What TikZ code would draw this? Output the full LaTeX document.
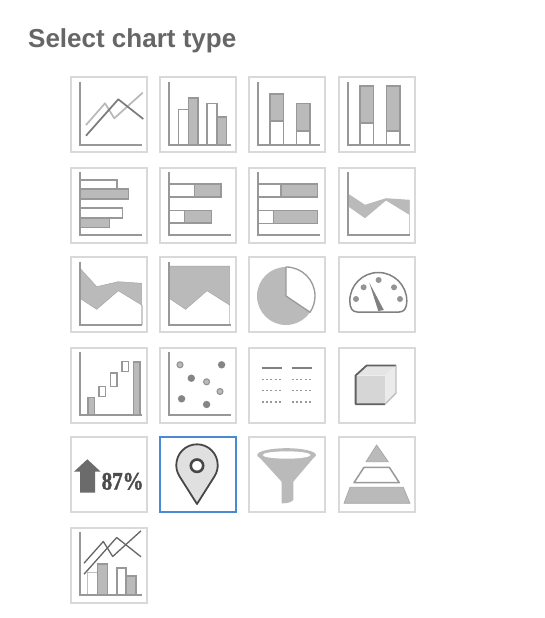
\documentclass[tikz,border=0pt]{standalone}
\usepackage{fontspec}
\setmainfont{Liberation Sans}
\newfontfamily\serifb[BoldFeatures={FakeBold=1.6}]{Liberation Serif}
\definecolor{tileedge}{HTML}{D9D9D9}
\definecolor{selblue}{HTML}{4A8AD4}
\definecolor{axisc}{HTML}{989898}
\definecolor{barc}{HTML}{BABABA}
\definecolor{titlec}{HTML}{666666}
\tikzset{
 x=1pt,y=-1pt,
 tile/.style={draw=tileedge,line width=2pt,fill=white,minimum width=75.6pt,minimum height=75.3pt,inner sep=0pt,anchor=north west},
 seltile/.style={tile,draw=selblue},
 axisline/.style={draw=axisc,line width=1.7pt},
 wbar/.style={draw=axisc,line width=1.6pt,fill=white},
 gbar/.style={draw=axisc,line width=1.6pt,fill=barc},
 lightline/.style={draw=black!28,line width=1.7pt,line join=round},
 darkline/.style={draw=black!52,line width=1.7pt,line join=round},
 thinline/.style={draw=black!60,line width=1.3pt,line join=round},
 icon/.style={shift={(#1.north west)}},
}
\newcommand{\axes}{\draw[axisline] (10,5.5) -- (10,69) -- (72,69);}
\newcommand{\axesb}{\draw[axisline] (10,5) -- (10,68.5) -- (72,68.5);}
\begin{document}
\begin{tikzpicture}
\useasboundingbox (0,0) rectangle (544,618);
\fill[white] (0,0) rectangle (544,618);
\node[anchor=base west,inner sep=0pt,text=titlec,font=\fontsize{26}{30}\selectfont\bfseries] (title) at (28,48) {Select chart type};
% tiles
\node[tile] (a1) at (70,76) {}; \node[tile] (a2) at (159.3,76) {}; \node[tile] (a3) at (248.3,76) {}; \node[tile] (a4) at (338.3,76) {};
\node[tile] (b1) at (70,166.5) {}; \node[tile] (b2) at (159.3,166.5) {}; \node[tile] (b3) at (248.3,166.5) {}; \node[tile] (b4) at (338.3,166.5) {};
\node[tile] (c1) at (70,256) {}; \node[tile] (c2) at (159.3,256) {}; \node[tile] (c3) at (248.3,256) {}; \node[tile] (c4) at (338.3,256) {};
\node[tile] (d1) at (70,346.5) {}; \node[tile] (d2) at (159.3,346.5) {}; \node[tile] (d3) at (248.3,346.5) {}; \node[tile] (d4) at (338.3,346.5) {};
\node[tile] (e1) at (70,436) {}; \node[seltile] (e2) at (159.3,436) {}; \node[tile] (e3) at (248.3,436) {}; \node[tile] (e4) at (338.3,436) {};
\node[tile] (f1) at (70,526.5) {};
% a1 line chart
\begin{scope}[icon=a1]
\axes
\draw[lightline] (16,49) -- (35,27.3) -- (44.3,42.3) -- (72.7,16.7);
\draw[darkline] (16,59.7) -- (48.3,23.3) -- (73.3,43);
\end{scope}
% a2 bars
\begin{scope}[icon=a2]
\draw[wbar] (19,69) rectangle (29,33.3);
\draw[gbar] (29,69) rectangle (38.7,21.7);
\draw[wbar] (47.7,69) rectangle (57.7,27.3);
\draw[gbar] (57.7,69) rectangle (67.3,40.7);
\axes
\end{scope}
% a3 stacked
\begin{scope}[icon=a3]
\draw[wbar] (21.7,69) rectangle (35,45);
\draw[gbar] (21.7,45) rectangle (35,18);
\draw[wbar] (48.3,69) rectangle (61.7,54.7);
\draw[gbar] (48.3,54.7) rectangle (61.7,27.3);
\axes
\end{scope}
% a4 100 stacked
\begin{scope}[icon=a4]
\draw[wbar] (21.7,69) rectangle (35,46.7);
\draw[gbar] (21.7,46.7) rectangle (35,10);
\draw[wbar] (48.3,69) rectangle (61.7,54.7);
\draw[gbar] (48.3,54.7) rectangle (61.7,10);
\axes
\end{scope}
% b1 horizontal bars
\begin{scope}[icon=b1]
\draw[wbar] (10,13.3) rectangle (46.7,22.7);
\draw[gbar] (10,22.7) rectangle (58.3,32.7);
\draw[wbar] (10,41.7) rectangle (52.3,51.7);
\draw[gbar] (10,51.7) rectangle (39.3,61);
\axesb
\end{scope}
% b2
\begin{scope}[icon=b2]
\draw[wbar] (10,17.3) rectangle (35,30.7);
\draw[gbar] (35,17.3) rectangle (61.7,30.7);
\draw[wbar] (10,44) rectangle (25,56.7);
\draw[gbar] (25,44) rectangle (52.3,56.7);
\axesb
\end{scope}
% b3
\begin{scope}[icon=b3]
\draw[wbar] (10,17.3) rectangle (32.7,30.7);
\draw[gbar] (32.7,17.3) rectangle (69.3,30.7);
\draw[wbar] (10,44) rectangle (25,57);
\draw[gbar] (25,44) rectangle (69.3,57);
\axesb
\end{scope}
% b4 area
\begin{scope}[icon=b4]
\draw[draw=black!20,line width=1.6pt] (71,33) -- (71,68.5);
\fill[barc] (10,27.3) -- (26.7,38.3) -- (47.7,31.7) -- (71,33.3) -- (71,48.3) -- (47.7,34) -- (26.7,51.7) -- (10,40) -- cycle;
\axesb
\end{scope}
% c1 area
\begin{scope}[icon=c1]
\draw[draw=black!20,line width=1.6pt] (71.7,49) -- (71.7,69);
\fill[barc,draw=black!35,line width=.5pt] (10,12.3) -- (26.7,30.7) -- (48.3,25.7) -- (71.7,27.3) -- (71.7,49) -- (48.3,34.7) -- (26.7,53.3) -- (10,42.3) -- cycle;
\axes
\end{scope}
% c2 area
\begin{scope}[icon=c2]
\draw[draw=black!20,line width=1.6pt] (70.3,49) -- (70.3,69);
\fill[barc,draw=black!35,line width=.5pt] (10,10) -- (70.3,10) -- (70.3,49) -- (47.7,34.7) -- (26.3,53.3) -- (10,42.3) -- cycle;
\axes
\end{scope}
% c3 pie
\begin{scope}[icon=c3]
\fill[barc] (37.7,40) circle[radius=29];
\fill[white,draw=black!40,line width=1.3pt,line join=round] (37.7,40) -- (37.7,11) arc[start angle=-90,end angle=34,radius=29] -- cycle;
\end{scope}
% c4 gauge
\begin{scope}[icon=c4]
\draw[draw=black!50,line width=1.5pt,fill=white,line join=round] (19,56) .. controls (14,56) and (11.5,52) .. (11.5,45) arc[start angle=180,end angle=360,radius=28.5] .. controls (68.5,52) and (66,56) .. (61,56) -- cycle;
\foreach \px/\py in {17.7/43,25.3/31.3,40.3/24,55.7/31.3,61.7/43}{\fill[black!42] (\px,\py) circle[radius=3];}
\fill[black!50] (31,26.7) -- (40,55) -- (45.5,54) -- cycle;
\end{scope}
% d1 waterfall
\begin{scope}[icon=d1]
\draw[gbar] (17.7,68.3) rectangle (24.3,51);
\draw[wbar] (29,40) rectangle (35.3,50);
\draw[wbar] (40.3,26.7) rectangle (46.7,40);
\draw[wbar] (52,15) rectangle (58.3,25);
\draw[gbar] (63.3,68.3) rectangle (70,15.7);
\axesb
\end{scope}
% d2 scatter
\begin{scope}[icon=d2]
\foreach \px/\py in {20.7/18.3,47.3/35.3,60.7/45}{\fill[barc,draw=black!42,line width=1.1pt] (\px,\py) circle[radius=3];}
\foreach \px/\py in {62.3/18.3,32/31.7,22.3/52.3,47.3/58}{\fill[black!48] (\px,\py) circle[radius=3.7];}
\axesb
\end{scope}
% d3 table
\begin{scope}[icon=d3]
\draw[black!50,line width=2pt] (13.3,21) -- (34,21);
\draw[black!50,line width=2pt] (43.3,21) -- (64,21);
\foreach \py in {32.8,44,55.2}{
 \draw[black!40,line width=1.6pt,dash pattern=on 2pt off 2.4pt] (13.3,\py) -- (35,\py);
 \draw[black!40,line width=1.6pt,dash pattern=on 2pt off 2.4pt] (43.3,\py) -- (65,\py);
}
\end{scope}
% d4 cube
\begin{scope}[icon=d4]
\fill[black!10] (17.3,29) -- (28.3,19) -- (57.7,19) -- (46.7,29) -- cycle;
\fill[black!16] (17.3,29) rectangle (46.7,57.7);
\fill[black!8] (46.7,29) -- (57.7,19) -- (57.7,46.7) -- (46.7,57.7) -- cycle;
\draw[black!62,line width=1.8pt,line join=round] (46.7,57.7) -- (17.3,57.7) -- (17.3,29) -- (28.3,19) -- (57.7,19);
\draw[black!25,line width=1.4pt,line join=round] (57.7,19) -- (57.7,46.7) -- (46.7,57.7);
\end{scope}
% e1 arrow + percent
\begin{scope}[icon=e1]
\fill[black!58] (17.3,23.3) -- (4,35.7) -- (10,35.7) -- (10,56.7) -- (25,56.7) -- (25,35.7) -- (30.7,35.7) -- cycle;
\node[anchor=base west,inner sep=0pt,text=black!70,font=\serifb\bfseries\fontsize{25}{25}\selectfont,xscale=.84] (pct) at (31.5,53.5) {87\%};
\end{scope}
% e2 pin
\begin{scope}[icon=e2]
\draw[draw=black!72,fill=black!12,line width=1.8pt,line join=round] (37.7,68) -- (20,40) .. controls (17.5,35.5) and (17,32) .. (17,29) arc[start angle=180,end angle=360,radius=20.7] .. controls (58.4,32) and (58,35.5) .. (55.4,40) -- cycle;
\draw[draw=black!72,fill=white,line width=2.6pt] (37.7,29.7) circle[radius=6.2];
\end{scope}
% e3 funnel
\begin{scope}[icon=e3]
\fill[barc] (9,19) -- (33.3,45.7) -- (33.3,67.3) .. controls (38,67.5) and (43,66.5) .. (45,64) -- (45,45.7) -- (67.7,19) -- cycle;
\fill[barc] (38.3,19) ellipse[x radius=29.3,y radius=6.8];
\fill[white] (38.3,19) ellipse[x radius=24,y radius=3.7];
\end{scope}
% e4 pyramid
\begin{scope}[icon=e4]
\fill[barc,draw=black!35,line width=.7pt,line join=round] (38.3,9) -- (27.7,25.7) -- (50,25.7) -- cycle;
\draw[draw=black!40,fill=white,line width=1.5pt,line join=round] (25.7,31.3) -- (51,31.3) -- (61,46.7) -- (15.7,46.7) -- cycle;
\fill[barc,draw=black!35,line width=.7pt,line join=round] (11.7,51.3) -- (65,51.3) -- (71.7,67.3) -- (5.7,67.3) -- cycle;
\end{scope}
% f1 combo
\begin{scope}[icon=f1]
\draw[wbar,draw=black!25] (17.3,68.3) rectangle (27.3,46);
\draw[gbar] (27.3,68.3) rectangle (37.3,37.7);
\draw[wbar] (46.7,68.3) rectangle (56,41.3);
\draw[gbar] (56,68.3) rectangle (66,49.3);
\axesb
\draw[thinline] (14,36.7) -- (33.3,15) -- (42.7,30) -- (71,4.3);
\draw[thinline] (14,47.7) -- (46.7,11) -- (71,30.3);
\end{scope}
\end{tikzpicture}
\end{document}
